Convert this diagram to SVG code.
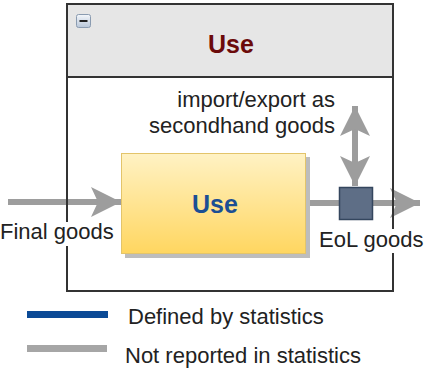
<svg xmlns="http://www.w3.org/2000/svg" width="426" height="369" viewBox="0 0 426 369">
<defs>
<linearGradient id="gold" x1="0" y1="0" x2="0" y2="1">
<stop offset="0" stop-color="#fff2c4"/>
<stop offset="1" stop-color="#ffd660"/>
</linearGradient>
<linearGradient id="icon" x1="0" y1="0" x2="0" y2="1">
<stop offset="0" stop-color="#f4f7fb"/>
<stop offset="1" stop-color="#b8c6d8"/>
</linearGradient>
<marker id="ah" markerUnits="userSpaceOnUse" markerWidth="32" markerHeight="32" refX="30" refY="15" orient="auto">
<path d="M0,0 L30,15 L0,30 L7,15 Z" fill="#9d9d9d"/>
</marker>
</defs>
<style>
text{font-family:"Liberation Sans",Arial,sans-serif;fill:#222}
.lbl{font-size:22px}
.flow{stroke:#9d9d9d;stroke-width:6;fill:none}
.bg{fill:#ffffff}
</style>
<g id="container">
<rect x="68" y="5" width="326" height="287" fill="#b0b0b0"/>
<rect x="67" y="4" width="326" height="287" fill="#ffffff"/>
<rect x="68" y="5" width="324" height="72" fill="#e6e6e6"/>
<rect x="76.5" y="14.5" width="14" height="13" rx="2" fill="url(#icon)" stroke="#8a9bb0"/>
<line x1="79.5" y1="21" x2="87.5" y2="21" stroke="#222" stroke-width="2"/>
<text x="231" y="53" text-anchor="middle" style="font-size:25px;font-weight:bold;fill:#6b0a0a">Use</text>
</g>
<g id="connectors">
<line class="flow" x1="8" y1="202" x2="121" y2="202" marker-end="url(#ah)"/>
<line class="flow" x1="306" y1="203" x2="420" y2="203" marker-end="url(#ah)"/>
<line class="flow" x1="355" y1="146" x2="355" y2="106" marker-end="url(#ah)"/>
<line class="flow" x1="355" y1="146" x2="355" y2="186" marker-end="url(#ah)"/>
</g>
<g id="container-border">
<rect x="67" y="4" width="326" height="287" fill="none" stroke="#333" stroke-width="2"/>
<line x1="67" y1="77" x2="393" y2="77" stroke="#333" stroke-width="2"/>
</g>
<g id="use-node">
<rect x="125" y="157" width="185" height="101" fill="#bdbdbd"/>
<rect x="121.5" y="153.5" width="184" height="100" fill="url(#gold)" stroke="#e3c46a"/>
<text x="215" y="213" text-anchor="middle" style="font-size:25px;font-weight:bold;fill:#1b4f94">Use</text>
</g>
<g id="eol-node">
<rect x="339.5" y="187.5" width="33" height="32" fill="#5e6e86" stroke="#34465e" stroke-width="1.5"/>
</g>
<g id="labels">
<rect class="bg" x="0" y="222" width="115" height="24"/>
<text class="lbl" x="0" y="239">Final goods</text>
<rect class="bg" x="317" y="229" width="108" height="24"/>
<text class="lbl" x="319" y="247">EoL goods</text>
<text class="lbl" x="335" y="107" text-anchor="end">import/export as</text>
<text class="lbl" x="335" y="133" text-anchor="end">secondhand goods</text>
</g>
<g id="legend">
<line x1="27" y1="314.5" x2="108" y2="314.5" stroke="#0b4a96" stroke-width="7"/>
<line x1="27" y1="348.5" x2="107" y2="348.5" stroke="#a6a6a6" stroke-width="7"/>
<text class="lbl" x="128" y="324">Defined by statistics</text>
<text class="lbl" x="125" y="363">Not reported in statistics</text>
</g>
</svg>
